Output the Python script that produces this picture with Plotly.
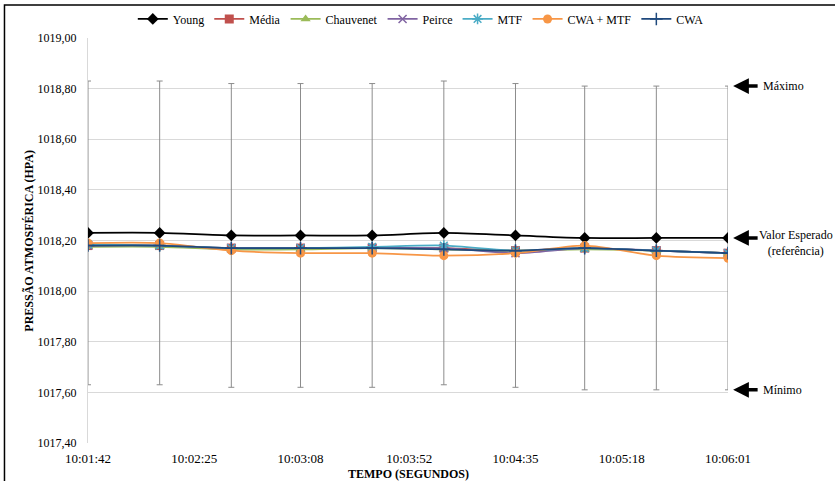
import plotly.graph_objects as go

# Sample instants (hh:mm:ss) and axis tick labels
tempos = ["10:01:42", "10:02:11", "10:02:40", "10:03:08", "10:03:37",
          "10:04:06", "10:04:35", "10:05:03", "10:05:32", "10:06:01"]
ticks = ["10:01:42", "10:02:25", "10:03:08", "10:03:52", "10:04:35", "10:05:18", "10:06:01"]

# Pressure estimates (hPa) per method
young = [1018.23, 1018.23, 1018.22, 1018.22, 1018.22, 1018.23, 1018.22, 1018.21, 1018.21, 1018.21]
media = [1018.18, 1018.18, 1018.17, 1018.17, 1018.17, 1018.17, 1018.16, 1018.17, 1018.16, 1018.15]
chauvenet = [1018.175, 1018.175, 1018.165, 1018.165, 1018.17, 1018.165, 1018.16, 1018.165, 1018.16, 1018.15]
peirce = [1018.18, 1018.18, 1018.17, 1018.17, 1018.17, 1018.17, 1018.15, 1018.17, 1018.16, 1018.15]
mtf = [1018.185, 1018.18, 1018.17, 1018.17, 1018.175, 1018.18, 1018.16, 1018.17, 1018.16, 1018.15]
cwa_mtf = [1018.19, 1018.19, 1018.16, 1018.15, 1018.15, 1018.14, 1018.15, 1018.18, 1018.14, 1018.13]
cwa = [1018.18, 1018.18, 1018.17, 1018.17, 1018.17, 1018.165, 1018.16, 1018.17, 1018.16, 1018.15]

# Uncertainty band around the reference (hPa)
incerteza = [0.6, 0.6, 0.6, 0.6, 0.6, 0.6, 0.6, 0.6, 0.6, 0.6]

# Right-hand reference markers
ref_labels = ["Máximo", "Valor Esperado<br>(referência)", "Mínimo"]
ref_values = [1018.81, 1018.21, 1017.61]


def to_sec(t):
    h, m, s = (int(v) for v in t.split(":"))
    return h * 3600 + m * 60 + s


t0 = to_sec(tempos[0])
x = [to_sec(t) - t0 for t in tempos]
tick_x = [to_sec(t) - t0 for t in ticks]

FONT = "Times New Roman, Liberation Serif, DejaVu Serif, serif"

series = [
    ("Young", young, "#000000", "diamond", 9),
    ("Média", media, "#C0504D", "square", 9),
    ("Chauvenet", chauvenet, "#9BBB59", "triangle-up", 9),
    ("Peirce", peirce, "#8064A2", "x-thin-open", 8),
    ("MTF", mtf, "#4BACC6", "asterisk-open", 9),
    ("CWA + MTF", cwa_mtf, "#F79646", "circle", 9),
    ("CWA", cwa, "#1F497D", "cross-thin-open", 9),
]

fig = go.Figure()
for name, ys, color, symbol, size in series:
    kw = {}
    if name == "Young":
        kw["error_y"] = dict(type="data", array=incerteza, symmetric=True,
                             color="#8C8C8C", thickness=1, width=3)
    open_sym = symbol.endswith("-open")
    fig.add_trace(go.Scatter(
        x=x, y=ys, name=name, mode="lines+markers",
        line=dict(color=color, width=1.75, shape="spline", smoothing=0.8),
        marker=dict(symbol=symbol, size=size, color=color,
                    line=dict(color=color, width=1.5 if open_sym else 0)),
        **kw,
    ))

# Reference arrows and labels on the right
for lab, val in zip(ref_labels, ref_values):
    fig.add_annotation(x=1.008, y=val, xref="paper", yref="y",
                       ax=26, ay=0, text="", showarrow=True,
                       arrowhead=2, arrowsize=0.9, arrowwidth=3.5, arrowcolor="#000000")
    is_ref = "Valor" in lab
    fig.add_annotation(x=1.045 if is_ref else 1.052, y=val, xref="paper", yref="y",
                       text=lab, showarrow=False, xanchor="left", align="center",
                       yanchor="top" if is_ref else "middle",
                       yshift=12 if is_ref else 0,
                       font=dict(family=FONT, size=12, color="#000000"))

# Axis titles
fig.add_annotation(x=0.5, y=-0.077, xref="paper", yref="paper", yanchor="middle",
                   text="<b>TEMPO (SEGUNDOS)</b>", showarrow=False,
                   font=dict(family=FONT, size=12, color="#000000"))
fig.add_annotation(x=-0.0935, y=0.5, xref="paper", yref="paper", xanchor="center",
                   text="<b>PRESSÃO ATMOSFÉRICA (HPA)</b>", showarrow=False, textangle=-90,
                   font=dict(family=FONT, size=12, color="#000000"))

# Outer chart frame
fig.add_shape(type="rect", xref="paper", yref="paper",
              x0=-0.1305, x1=1.5, y0=-0.3, y1=1.0815,
              line=dict(color="#000000", width=1.5), fillcolor="rgba(0,0,0,0)")

fig.update_layout(
    width=835, height=481,
    margin=dict(l=88, r=107, t=38, b=38, autoexpand=False),
    paper_bgcolor="#FFFFFF", plot_bgcolor="#FFFFFF",
    separators=",.",
    font=dict(family=FONT, size=12, color="#000000"),
    showlegend=True,
    legend=dict(orientation="h", x=0.52, y=1.047, xanchor="center", yanchor="middle",
                font=dict(family=FONT, size=12, color="#000000"),
                itemwidth=30, tracegroupgap=0, bgcolor="rgba(0,0,0,0)"),
    xaxis=dict(range=[x[0], x[-1]], tickvals=tick_x, ticktext=ticks,
               showgrid=False, zeroline=False, showline=False, ticks="",
               ticklabelstandoff=6,
               tickfont=dict(family=FONT, size=13, color="#000000")),
    yaxis=dict(range=[1017.4, 1019.0], dtick=0.2, tick0=1017.4, tickformat=".2f",
               showgrid=True, gridcolor="#D9D9D9", gridwidth=1, zeroline=False,
               showline=True, linecolor="#D9D9D9", linewidth=1, ticks="",
               ticklabelstandoff=8,
               tickfont=dict(family=FONT, size=12, color="#000000")),
)

fig.write_html("out.html")
